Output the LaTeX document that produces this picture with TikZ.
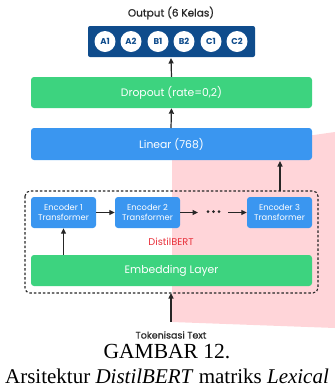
\documentclass[tikz,border=0pt]{standalone}
\usepackage{fontspec}
\setmainfont{Poppins}
\newfontfamily\medfont[FakeBold=0.6]{Poppins}
\newfontfamily\capfont{Liberation Serif}
\usetikzlibrary{arrows.meta,calc}
\definecolor{navy}{HTML}{0F4C8C}
\definecolor{grn}{HTML}{3DD37F}
\definecolor{blu}{HTML}{3A96F0}
\definecolor{pinkbg}{HTML}{FFD5D9}
\definecolor{redtxt}{HTML}{E8323C}
\begin{document}
\begin{tikzpicture}[x=1pt,y=-1pt,
  layer/.style={rounded corners=3pt, inner sep=0pt, text=white, font=\fontsize{10.8}{12}\selectfont},
  encbox/.style={rounded corners=3pt, fill=blu, inner sep=0pt, minimum width=65pt, minimum height=31pt, text=white, align=center, font=\fontsize{8.3}{9.2}\selectfont},
  cls/.style={circle, fill=white, inner sep=0pt, minimum size=21pt, text=navy, font=\fontsize{8.5}{9}\selectfont\bfseries},
  arr/.style={-{Triangle[length=5.5pt,width=5pt]}, line width=1.2pt, black!85},
  lbl/.style={inner sep=0pt, text=black!85, font=\medfont\fontsize{10.5}{12}\selectfont}
]
\useasboundingbox (0,0) rectangle (335,392);
\fill[pinkbg] (172,155) -- (335,132) -- (335,328) -- (172,322) -- cycle;

\node[lbl] (outlbl) at (171,13) {Output (6 Kelas)};
\node[rounded corners=2pt, fill=navy, minimum width=167pt, minimum height=31pt, inner sep=0pt] (outbox) at (171.5,41.5) {};
\foreach \n/\x in {A1/105,A2/131,B1/158,B2/184,C1/211,C2/237}{
  \node[cls] (c\n) at (\x,41.5) {\n};
}
\node[layer, fill=grn, minimum width=281pt, minimum height=31pt] (drop) at (171.5,92.5) {Dropout (rate=0,2)};
\node[layer, fill=blu, minimum width=281pt, minimum height=32pt] (lin) at (171.5,144) {Linear (768)};

\draw[line width=1.1pt, dash pattern=on 2.5pt off 2pt, rounded corners=5pt, black!85] (25,191) rectangle (318,293);
\coordinate (dbtop) at (280,191);
\coordinate (dbbot) at (171,293);

\node[encbox] (e1) at (63.5,212.5) {Encoder 1\\Transformer};
\node[encbox] (e2) at (147.5,212.5) {Encoder 2\\Transformer};
\node[encbox] (e3) at (279.5,212.5) {Encoder 3\\Transformer};
\coordinate (dots) at (213.5,211.5);
\foreach \dx in {-5.5,0,5.5}{\fill[black!85] ($(dots)+(\dx,0)$) circle (1.5pt);}
\node[inner sep=0pt, text=redtxt, font=\fontsize{9.8}{10}\selectfont] (dbl) at (171,242) {DistilBERT};
\node[layer, fill=grn, minimum width=281pt, minimum height=31pt] (emb) at (171.5,270.5) {Embedding Layer};

\coordinate (tokin) at (171,322);
\node[lbl, font=\medfont\fontsize{9.5}{10}\selectfont] (tok) at (171,335) {Tokenisasi Text};

\draw[arr] (outbox.south |- drop.north) -- (171,58);
\draw[arr] (171,128) -- (drop.south);
\draw[arr] (dbtop) -- (280,161);
\draw[arr] (e1.east) -- (e2.west);
\draw[arr] (e2.east) -- (198,212.5);
\draw[arr] (228,212.5) -- (e3.west);
\draw[arr] (emb.north -| e1.south) -- (e1.south);
\draw[arr] (tokin) -- (dbbot);

\node[inner sep=0pt, font=\capfont\fontsize{21.5}{22}\selectfont] (cap1) at (167,352) {GAMBAR 12.};
\node[inner sep=0pt, font=\capfont\fontsize{21}{22}\selectfont] (cap2) at (167,376) {Arsitektur \textit{DistilBERT} matriks \textit{Lexical}};
\end{tikzpicture}
\end{document}
